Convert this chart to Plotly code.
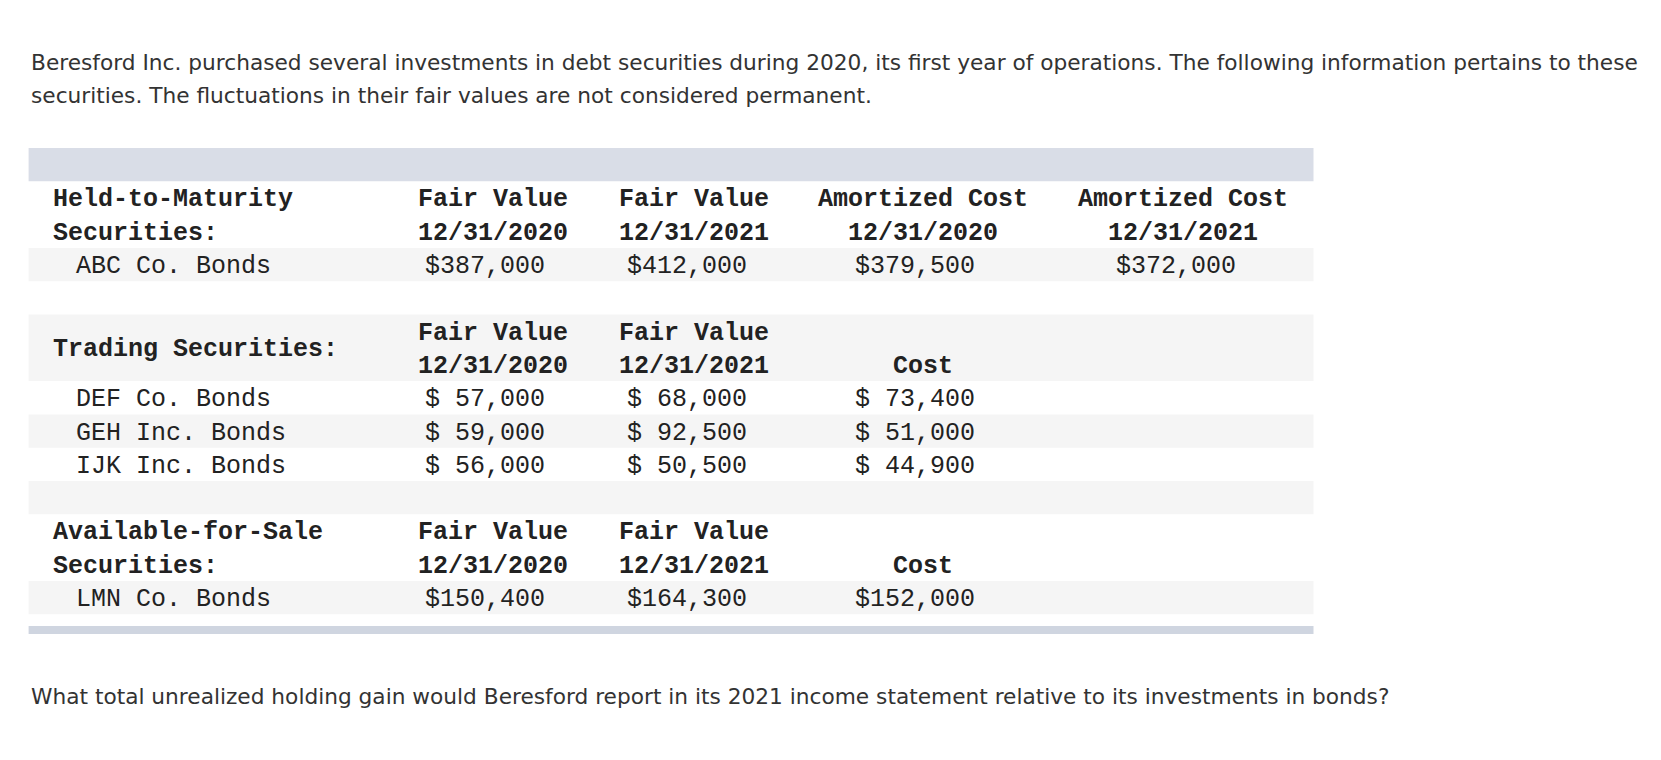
import plotly.graph_objects as go

# ---- text and table data ----
intro_lines = [
    "Beresford Inc. purchased several investments in debt securities during 2020, its first year of operations. The following information pertains to these",
    "securities. The fluctuations in their fair values are not considered permanent.",
]
question = "What total unrealized holding gain would Beresford report in its 2021 income statement relative to its investments in bonds?"

htm_label = ["Held-to-Maturity", "Securities:"]
htm_headers = [["Fair Value", "12/31/2020"], ["Fair Value", "12/31/2021"],
               ["Amortized Cost", "12/31/2020"], ["Amortized Cost", "12/31/2021"]]
htm_items = ["ABC Co. Bonds"]
htm_fv_2020 = ["$387,000"]
htm_fv_2021 = ["$412,000"]
htm_ac_2020 = ["$379,500"]
htm_ac_2021 = ["$372,000"]

trading_label = "Trading Securities:"
trading_headers = [["Fair Value", "12/31/2020"], ["Fair Value", "12/31/2021"], ["", "Cost"]]
trading_items = ["DEF Co. Bonds", "GEH Inc. Bonds", "IJK Inc. Bonds"]
trading_fv_2020 = ["$ 57,000", "$ 59,000", "$ 56,000"]
trading_fv_2021 = ["$ 68,000", "$ 92,500", "$ 50,500"]
trading_cost = ["$ 73,400", "$ 51,000", "$ 44,900"]

afs_label = ["Available-for-Sale", "Securities:"]
afs_headers = [["Fair Value", "12/31/2020"], ["Fair Value", "12/31/2021"], ["", "Cost"]]
afs_items = ["LMN Co. Bonds"]
afs_fv_2020 = ["$150,400"]
afs_fv_2021 = ["$164,300"]
afs_cost = ["$152,000"]

# ---- layout constants ----
W, H = 1661, 760
TOP = 148
ROW_H = 33.3
TBL_L, TBL_R = 28.6, 1313.5
COL_X = [492.6, 694, 922.7, 1183]
LABEL_X = 50.8
ITEM_X = 74
MONO = "Liberation Mono"
MONO_SIZE = 25
SANS = "DejaVu Sans"
SANS_SIZE = 21.7
TXT = "#222"
GREY = "#f5f5f5"

fig = go.Figure()
fig.update_xaxes(range=[0, W], visible=False)
fig.update_yaxes(range=[H, 0], visible=False)


def row_mid(i):
    return TOP + ROW_H * (i + 0.5)


def band(i, color, n=1):
    fig.add_shape(type="rect", x0=TBL_L, x1=TBL_R, y0=TOP + ROW_H * i, y1=TOP + ROW_H * (i + n),
                  fillcolor=color, line_width=0, layer="below")


def cell(x, y, text, bold=False, anchor="center", shift=0):
    fig.add_annotation(x=x, y=y, xref="x", yref="y", text=f"<b>{text}</b>" if bold else text,
                       showarrow=False, xanchor=anchor, yanchor="middle", xshift=shift, yshift=-2,
                       font=dict(family=MONO, size=MONO_SIZE, color=TXT))


# backgrounds
band(0, "#d9dde7")
band(3, GREY)
band(5, GREY, 2)
band(8, GREY)
band(10, GREY)
band(13, GREY)
fig.add_shape(type="rect", x0=TBL_L, x1=TBL_R, y0=626, y1=634, fillcolor="#cfd5e0",
              line_width=0, layer="below")


def section(start, label, headers, items, cols, span_label=False):
    if span_label:
        cell(LABEL_X, TOP + ROW_H * (start + 1), label, bold=True, anchor="left")
    else:
        for k, s in enumerate(label):
            cell(LABEL_X, row_mid(start + k), s, bold=True, anchor="left")
    for j, (h1, h2) in enumerate(headers):
        if h1:
            cell(COL_X[j], row_mid(start), h1, bold=True)
        cell(COL_X[j], row_mid(start + 1), h2, bold=True)
    for r, name in enumerate(items):
        cell(ITEM_X, row_mid(start + 2 + r), name, anchor="left")
        for j, col in enumerate(cols):
            cell(COL_X[j], row_mid(start + 2 + r), col[r], shift=-7.5)


section(1, htm_label, htm_headers, htm_items, [htm_fv_2020, htm_fv_2021, htm_ac_2020, htm_ac_2021])
section(5, trading_label, trading_headers, trading_items,
        [trading_fv_2020, trading_fv_2021, trading_cost], span_label=True)
section(11, afs_label, afs_headers, afs_items, [afs_fv_2020, afs_fv_2021, afs_cost])

# paragraph text
for k, line in enumerate(intro_lines):
    fig.add_annotation(x=28.6, y=62 + 33.6 * k, xref="x", yref="y", text=line, showarrow=False,
                       xanchor="left", yanchor="middle",
                       font=dict(family=SANS, size=SANS_SIZE, color="#333"))
fig.add_annotation(x=28.6, y=696, xref="x", yref="y", text=question, showarrow=False,
                   xanchor="left", yanchor="middle",
                   font=dict(family=SANS, size=SANS_SIZE, color="#333"))

fig.update_layout(width=W, height=H, margin=dict(l=0, r=0, t=0, b=0),
                  plot_bgcolor="white", paper_bgcolor="white", showlegend=False)
fig.write_html("out.html", config={"displayModeBar": False},
               post_script="document.body.style.margin='0';")
